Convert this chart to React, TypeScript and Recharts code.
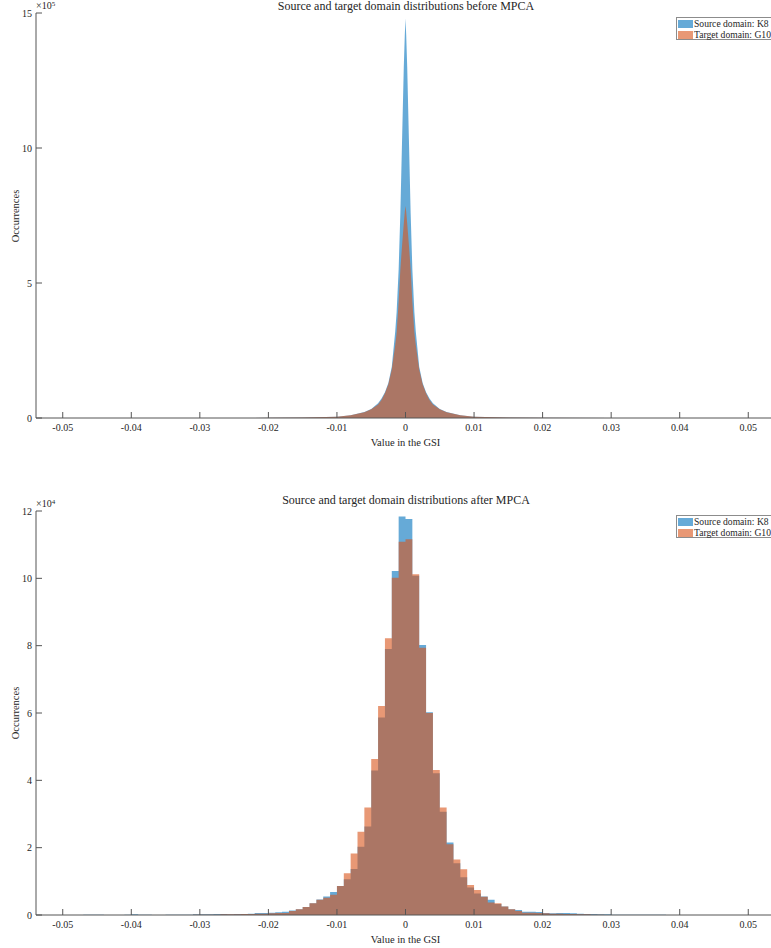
import React from 'react';
import { AreaChart, Area, XAxis, YAxis } from 'recharts';

const FONT = '"Liberation Serif", "Times New Roman", Times, serif';
const TEXT = '#262626';
const AXIS = '#555555';
const BLUE = '#0072BD';
const ORANGE = '#D95319';
const ALPHA = 0.6;

// shared x axis
const xTickValues = [-0.05, -0.04, -0.03, -0.02, -0.01, 0, 0.01, 0.02, 0.03, 0.04, 0.05];
const xTickLabels = ['-0.05', '-0.04', '-0.03', '-0.02', '-0.01', '0', '0.01', '0.02', '0.03', '0.04', '0.05'];
const xDomain: [number, number] = [-0.0539, 0.0539];

const seriesNames = ['Source domain: K8', 'Target domain: G10'];
const titles = [
  'Source and target domain distributions before MPCA',
  'Source and target domain distributions after MPCA',
];
const xLabelText = 'Value in the GSI';
const yLabelText = 'Occurrences';
const exponents = ['5', '4'];

// BEFORE MPCA (values in units of 1e5)
const beforeX = [
  -0.03, -0.02, -0.015, -0.01, -0.008, -0.006, -0.005, -0.004, -0.0035, -0.003, -0.0025, -0.002,
  -0.0015, -0.0013, -0.001, -0.00075, -0.0005, -0.00025, -0.0001, 0, 0.0001, 0.00025, 0.0005,
  0.00075, 0.001, 0.0013, 0.0015, 0.002, 0.0025, 0.003, 0.0035, 0.004, 0.005, 0.006, 0.008, 0.01,
  0.015, 0.02, 0.03,
];
const beforeSource = [
  0, 0.005, 0.015, 0.05, 0.1, 0.22, 0.33, 0.55, 0.72, 0.95, 1.3, 1.9,
  3.2, 3.9, 5.5, 7.6, 10.3, 13.0, 14.2, 14.8, 14.2, 13.0, 10.3,
  7.6, 5.5, 3.9, 3.2, 1.9, 1.3, 0.95, 0.72, 0.55, 0.33, 0.22, 0.1, 0.05,
  0.015, 0.005, 0,
];
const beforeTarget = [
  0, 0.005, 0.015, 0.05, 0.1, 0.21, 0.32, 0.5, 0.67, 0.92, 1.25, 1.8,
  2.7, 3.14, 4.3, 5.5, 6.4, 7.2, 7.65, 7.85, 7.65, 7.2, 6.4,
  5.5, 4.3, 3.14, 2.7, 1.8, 1.25, 0.92, 0.67, 0.5, 0.32, 0.21, 0.1, 0.05,
  0.015, 0.005, 0,
];
const beforeYTicks = [0, 5, 10, 15];

// AFTER MPCA (values in units of 1e4), bins of 0.001 starting at -0.05
const afterFirstEdge = -0.05;
const afterBinWidth = 0.001;
const afterSource = [
  0, 0, 0, 0.01, 0.01, 0.01, 0, 0, 0, 0.01,
  0.02, 0.01, 0.01, 0, 0, 0.01, 0.01, 0.01, 0.01, 0.02,
  0.02, 0.02, 0.03, 0.03, 0.02, 0.03, 0.03, 0.04, 0.06, 0.06,
  0.07, 0.08, 0.1, 0.13, 0.17, 0.24, 0.35, 0.46, 0.55, 0.68,
  0.86, 1.06, 1.37, 2.03, 2.63, 4.29, 5.87, 7.9, 10.22, 11.84,
  11.76, 10.08, 8.02, 6.02, 4.21, 3.07, 2.15, 1.54, 1.12, 0.82,
  0.64, 0.55, 0.45, 0.33, 0.25, 0.17, 0.15, 0.1, 0.1, 0.09,
  0.06, 0.05, 0.06, 0.06, 0.05, 0.04, 0.03, 0.03, 0.02, 0.02,
  0.01, 0.01, 0.01, 0.01, 0.01, 0.01, 0.01, 0.01, 0, 0,
  0, 0, 0, 0, 0, 0, 0, 0, 0, 0,
];
const afterTarget = [
  0, 0, 0, 0, 0, 0, 0, 0, 0, 0,
  0, 0, 0, 0, 0, 0, 0, 0, 0, 0.01,
  0.01, 0.01, 0.01, 0.02, 0.02, 0.02, 0.03, 0.03, 0.04, 0.04,
  0.05, 0.06, 0.06, 0.12, 0.17, 0.24, 0.35, 0.45, 0.51, 0.6,
  0.86, 1.24, 1.83, 2.47, 3.19, 4.63, 6.21, 8.22, 10.02, 11.09,
  11.16, 10.12, 7.94, 6.0, 4.31, 3.19, 2.1, 1.65, 1.36, 0.89,
  0.74, 0.54, 0.37, 0.35, 0.25, 0.17, 0.12, 0.07, 0.07, 0.06,
  0.05, 0.04, 0.04, 0.03, 0.03, 0.02, 0.02, 0.01, 0.01, 0,
  0, 0, 0, 0, 0, 0, 0, 0, 0, 0,
  0, 0, 0, 0, 0, 0, 0, 0, 0, 0,
];
const afterYTicks = [0, 2, 4, 6, 8, 10, 12];

const beforeData = beforeX.map((x, i) => ({ x, source: beforeSource[i], target: beforeTarget[i] }));
const afterData = Array.from({ length: afterSource.length + 1 }, (_, i) => ({
  x: +(afterFirstEdge + i * afterBinWidth).toFixed(4),
  source: afterSource[i] ?? 0,
  target: afterTarget[i] ?? 0,
}));

function BottomTick(props: any) {
  const { x, y, payload } = props;
  const i = xTickValues.findIndex((v) => Math.abs(v - payload.value) < 1e-9);
  return (
    <g>
      <line x1={x} x2={x} y1={y} y2={y - 6} stroke={AXIS} strokeWidth={1} />
      <text x={x} y={y + 12.5} textAnchor="middle" fontSize={10} fontFamily={FONT} fill={TEXT}>
        {i >= 0 ? xTickLabels[i] : ''}
      </text>
    </g>
  );
}

function TopTick(props: any) {
  const { x, y } = props;
  return <line x1={x} x2={x} y1={y} y2={y + 6} stroke={AXIS} strokeWidth={1} />;
}

function LeftTick(props: any) {
  const { x, y, payload } = props;
  return (
    <g>
      <line x1={x} x2={x + 6} y1={y} y2={y} stroke={AXIS} strokeWidth={1} />
      <text x={x - 4} y={y + 3.5} textAnchor="end" fontSize={10} fontFamily={FONT} fill={TEXT}>
        {String(payload.value)}
      </text>
    </g>
  );
}

type PanelProps = {
  top: number;
  height: number;
  xAxisHeight: number;
  data: any[];
  curve: 'linear' | 'stepAfter';
  yMax: number;
  yTicks: number[];
  title: string;
  exponent: string;
  titleTop: number;
};

const PLOT_LEFT = 36;
const PLOT_TOP = 13;

function Panel({ top, height, xAxisHeight, data, curve, yMax, yTicks, title, exponent, titleTop }: PanelProps) {
  const plotBottom = height - xAxisHeight;
  const plotMid = (PLOT_TOP + plotBottom) / 2;
  return (
    <div style={{ position: 'absolute', left: 0, top, width: 800, height }}>
      <AreaChart width={800} height={height} data={data} margin={{ top: PLOT_TOP, right: 25, bottom: 0, left: 0 }}>
        <XAxis
          dataKey="x"
          type="number"
          domain={xDomain}
          allowDataOverflow
          ticks={xTickValues}
          interval={0}
          height={xAxisHeight}
          tick={BottomTick}
          tickLine={false}
          tickSize={0}
          tickMargin={0}
          axisLine={{ stroke: AXIS, strokeWidth: 1 }}
        />
        <XAxis
          xAxisId="top"
          orientation="top"
          dataKey="x"
          type="number"
          domain={xDomain}
          allowDataOverflow
          ticks={xTickValues}
          interval={0}
          height={0}
          tick={TopTick}
          tickLine={false}
          tickSize={0}
          tickMargin={0}
          axisLine={{ stroke: AXIS, strokeWidth: 1 }}
        />
        <YAxis
          type="number"
          domain={[0, yMax]}
          allowDataOverflow
          ticks={yTicks}
          interval={0}
          width={PLOT_LEFT}
          tick={LeftTick}
          tickLine={false}
          tickSize={0}
          tickMargin={0}
          axisLine={{ stroke: AXIS, strokeWidth: 1 }}
        />
        <Area
          type={curve}
          dataKey="source"
          stroke="none"
          fill={BLUE}
          fillOpacity={ALPHA}
          dot={false}
          activeDot={false}
          isAnimationActive={false}
        />
        <Area
          type={curve}
          dataKey="target"
          stroke="none"
          fill={ORANGE}
          fillOpacity={ALPHA}
          dot={false}
          activeDot={false}
          isAnimationActive={false}
        />
      </AreaChart>

      {/* title */}
      <div
        style={{
          position: 'absolute', left: 406, top: titleTop, transform: 'translateX(-50%)',
          fontSize: 12, lineHeight: '12px', whiteSpace: 'nowrap', color: TEXT, fontFamily: FONT,
        }}
      >
        {title}
      </div>
      {/* exponent */}
      <div
        style={{
          position: 'absolute', left: 36, top: 1, fontSize: 10, lineHeight: '10px',
          whiteSpace: 'nowrap', color: TEXT, fontFamily: FONT,
        }}
      >
        ×10<sup style={{ fontSize: 7, verticalAlign: 'top', lineHeight: '7px' }}>{exponent}</sup>
      </div>
      {/* y label */}
      <div
        style={{
          position: 'absolute', left: 15, top: plotMid, transform: 'translate(-50%, -50%) rotate(-90deg)',
          fontSize: 10.5, lineHeight: '11px', whiteSpace: 'nowrap', color: TEXT, fontFamily: FONT,
        }}
      >
        {yLabelText}
      </div>
      {/* x label */}
      <div
        style={{
          position: 'absolute', left: 405.5, top: plotBottom + 24, transform: 'translate(-50%, -50%)',
          fontSize: 10.5, lineHeight: '11px', whiteSpace: 'nowrap', color: TEXT, fontFamily: FONT,
        }}
      >
        {xLabelText}
      </div>
      {/* legend */}
      <div
        style={{
          position: 'absolute', left: 676, top: 17, width: 130, height: 23, boxSizing: 'border-box',
          border: '1px solid #8c8c8c', background: '#fff',
        }}
      >
        {[BLUE, ORANGE].map((c, i) => (
          <div key={i} style={{ position: 'absolute', left: 0, top: 1.5 + i * 10.5, height: 9, whiteSpace: 'nowrap' }}>
            <div
              style={{
                position: 'absolute', left: 1, top: 0.5, width: 15, height: 8, background: c, opacity: ALPHA,
              }}
            />
            <div
              style={{
                position: 'absolute', left: 17, top: -0.5, fontSize: 9.6, lineHeight: '10px', color: TEXT,
                fontFamily: FONT, whiteSpace: 'nowrap',
              }}
            >
              {seriesNames[i]}
            </div>
          </div>
        ))}
      </div>
    </div>
  );
}

export default function App() {
  return (
    <div
      style={{
        position: 'absolute', left: 0, top: 0, width: 771, height: 948, overflow: 'hidden',
        background: '#fff', fontFamily: FONT,
      }}
    >
      <Panel
        top={0}
        height={468}
        xAxisHeight={50}
        data={beforeData}
        curve="linear"
        yMax={15}
        yTicks={beforeYTicks}
        title={titles[0]}
        exponent={exponents[0]}
        titleTop={0}
      />
      <Panel
        top={498}
        height={450}
        xAxisHeight={33}
        data={afterData}
        curve="stepAfter"
        yMax={12}
        yTicks={afterYTicks}
        title={titles[1]}
        exponent={exponents[1]}
        titleTop={-4}
      />
    </div>
  );
}
